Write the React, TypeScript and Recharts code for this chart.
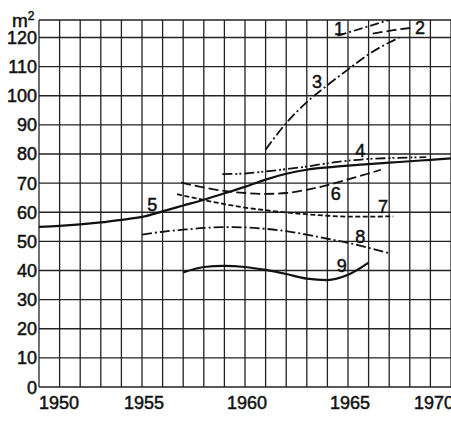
import {
  LineChart,
  Line,
  XAxis,
  YAxis,
  CartesianGrid,
  ReferenceDot,
} from "recharts";

// floor space per dwelling (m²) by year, one array per numbered curve
const curve1 = [
  { year: 1964.5, m2: 120.6 },
  { year: 1967, m2: 126 },
];
const curve2 = [
  { year: 1966.2, m2: 121.3 },
  { year: 1967.2, m2: 122.5 },
  { year: 1968.2, m2: 123.4 },
];
const curve3 = [
  { year: 1961, m2: 81.5 },
  { year: 1962, m2: 90.6 },
  { year: 1963, m2: 97.8 },
  { year: 1964, m2: 103.6 },
  { year: 1965, m2: 109 },
  { year: 1966, m2: 114.2 },
  { year: 1967, m2: 118.3 },
  { year: 1967.5, m2: 120 },
];
const curve4 = [
  { year: 1958.9, m2: 73.1 },
  { year: 1960, m2: 73.3 },
  { year: 1961, m2: 74 },
  { year: 1962, m2: 74.8 },
  { year: 1963, m2: 75.7 },
  { year: 1964, m2: 76.8 },
  { year: 1965, m2: 77.7 },
  { year: 1966, m2: 78.3 },
  { year: 1967, m2: 78.6 },
  { year: 1968.8, m2: 78.9 },
];
const curve5 = [
  { year: 1950, m2: 55 },
  { year: 1951, m2: 55.3 },
  { year: 1952, m2: 55.8 },
  { year: 1953, m2: 56.5 },
  { year: 1954, m2: 57.4 },
  { year: 1955, m2: 58.4 },
  { year: 1956, m2: 60.3 },
  { year: 1957, m2: 62.3 },
  { year: 1958, m2: 64.3 },
  { year: 1959, m2: 66.5 },
  { year: 1960, m2: 68.7 },
  { year: 1961, m2: 71.2 },
  { year: 1962, m2: 73.2 },
  { year: 1963, m2: 74.6 },
  { year: 1964, m2: 75.4 },
  { year: 1965, m2: 76 },
  { year: 1966, m2: 76.5 },
  { year: 1967, m2: 77 },
  { year: 1968, m2: 77.5 },
  { year: 1969, m2: 78 },
  { year: 1970, m2: 78.5 },
];
const curve6 = [
  { year: 1956.9, m2: 70.2 },
  { year: 1958, m2: 68.5 },
  { year: 1959, m2: 67.3 },
  { year: 1960, m2: 66.6 },
  { year: 1961, m2: 66.3 },
  { year: 1962, m2: 66.6 },
  { year: 1963, m2: 67.7 },
  { year: 1964, m2: 69.3 },
  { year: 1965, m2: 71.3 },
  { year: 1966, m2: 73.3 },
  { year: 1966.6, m2: 74.6 },
];
const curve7 = [
  { year: 1956.7, m2: 66.2 },
  { year: 1958, m2: 64.2 },
  { year: 1959, m2: 62.8 },
  { year: 1960, m2: 61.6 },
  { year: 1961, m2: 60.7 },
  { year: 1962, m2: 59.9 },
  { year: 1963, m2: 59.3 },
  { year: 1964, m2: 58.8 },
  { year: 1965, m2: 58.5 },
  { year: 1966, m2: 58.5 },
  { year: 1967.2, m2: 58.6 },
];
const curve8 = [
  { year: 1955, m2: 52.3 },
  { year: 1956, m2: 53.3 },
  { year: 1957, m2: 54 },
  { year: 1958, m2: 54.6 },
  { year: 1959, m2: 54.9 },
  { year: 1960, m2: 54.8 },
  { year: 1961, m2: 54.3 },
  { year: 1962, m2: 53.5 },
  { year: 1963, m2: 52.3 },
  { year: 1964, m2: 50.9 },
  { year: 1965, m2: 49.5 },
  { year: 1966, m2: 47.8 },
  { year: 1967, m2: 45.9 },
];
const curve9 = [
  { year: 1957, m2: 39.3 },
  { year: 1958, m2: 41.2 },
  { year: 1959, m2: 41.6 },
  { year: 1960, m2: 41.2 },
  { year: 1961, m2: 40.2 },
  { year: 1962, m2: 38.8 },
  { year: 1963, m2: 37.2 },
  { year: 1964, m2: 36.7 },
  { year: 1965, m2: 38.5 },
  { year: 1966, m2: 42.7 },
];

// curve numbers written on the chart
const curveNames = ["1", "2", "3", "4", "5", "6", "7", "8", "9"];
const nameYears = [1964.56, 1968.5, 1963.5, 1965.6, 1955.5, 1964.4, 1966.7, 1965.6, 1964.7];
const nameValues = [123, 123.4, 104.8, 81.3, 62.7, 66.3, 61.9, 51.5, 41.6];

const yearTicks = [
  1950, 1951, 1952, 1953, 1954, 1955, 1956, 1957, 1958, 1959, 1960, 1961,
  1962, 1963, 1964, 1965, 1966, 1967, 1968, 1969, 1970,
];
const areaTicks = [0, 10, 20, 30, 40, 50, 60, 70, 80, 90, 100, 110, 120];

const ink = "#111";
const font = "'Liberation Sans', Arial, sans-serif";
const heavy = { stroke: ink, strokeWidth: 0.5 };

const YearTick = ({ x, y, payload }: any) => {
  const v = payload.value;
  if (v % 5 !== 0) return null;
  let anchor: "start" | "middle" | "end" = "middle";
  let dx = 2;
  if (v === 1950) {
    anchor = "start";
    dx = 0;
  }
  if (v === 1970) {
    anchor = "end";
    dx = 3;
  }
  return (
    <text
      x={x + dx}
      y={y + 22}
      textAnchor={anchor}
      fontSize={18}
      fontFamily={font}
      fill={ink}
      {...heavy}
    >
      {v}
    </text>
  );
};

const AreaTick = ({ y, payload }: any) => (
  <text
    x={37}
    y={y + 6.5}
    textAnchor="end"
    fontSize={18}
    fontFamily={font}
    fill={ink}
    {...heavy}
  >
    {payload.value}
  </text>
);

const lines = [
  { data: curve1, dash: "9 3 2 3", w: 1.8 },
  { data: curve2, dash: "10 4", w: 1.8 },
  { data: curve3, dash: "10 3 2 3", w: 1.8 },
  { data: curve4, dash: "10 3 2 2 2 3", w: 1.8 },
  { data: curve5, dash: undefined, w: 2.2 },
  { data: curve6, dash: "10 4", w: 1.8 },
  { data: curve7, dash: "5 2.5", w: 1.8 },
  { data: curve8, dash: "10 3 2 3", w: 1.8 },
  { data: curve9, dash: undefined, w: 2.2 },
];

export default function App() {
  return (
    <div style={{ position: "absolute", left: 0, top: 0, background: "#fff" }}>
      <LineChart
        width={451}
        height={429}
        margin={{ top: 20, right: 0, bottom: 0, left: 0 }}
      >
        <CartesianGrid stroke="#222" strokeWidth={1.3} />
        <XAxis
          type="number"
          dataKey="year"
          domain={[1950, 1970]}
          ticks={yearTicks}
          interval={0}
          height={42}
          axisLine={false}
          tickLine={false}
          tickSize={0}
          tickMargin={0}
          tick={<YearTick />}
          allowDataOverflow
        />
        <YAxis
          type="number"
          domain={[0, 126]}
          ticks={areaTicks}
          interval={0}
          width={39}
          axisLine={false}
          tickLine={false}
          tick={<AreaTick />}
          allowDataOverflow
        />
        {lines.map((l, i) => (
          <Line
            key={i}
            data={l.data}
            dataKey="m2"
            type="monotone"
            stroke={ink}
            strokeWidth={l.w}
            strokeDasharray={l.dash}
            dot={false}
            activeDot={false}
            isAnimationActive={false}
          />
        ))}
        {curveNames.map((n, i) => (
          <ReferenceDot
            key={n}
            x={nameYears[i]}
            y={nameValues[i]}
            r={1}
            fill="none"
            stroke="none"
            label={{
              value: n,
              position: "center",
              fontSize: 18,
              fontFamily: font,
              fill: ink,
              ...heavy,
            }}
          />
        ))}
        <text x={12} y={27} fontSize={19} fontFamily={font} fill={ink} {...heavy}>
          m
          <tspan fontSize={12} dy={-7}>
            2
          </tspan>
        </text>
      </LineChart>
    </div>
  );
}
